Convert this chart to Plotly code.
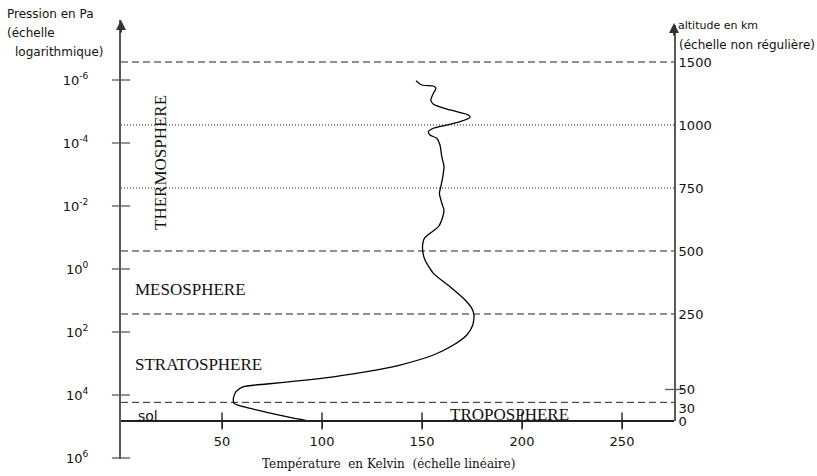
import numpy as np
import plotly.graph_objects as go

# ---------------- data ----------------
# temperature profile of the atmosphere (K) against pressure (Pa)
temperature_K = [147.0, 149.9, 155.7, 157.0, 155.7, 154.4, 155.7, 164.0, 173.2, 174.0,
                 169.0, 162.4, 155.7, 153.2, 154.0, 157.4, 159.0, 159.9, 161.0, 160.4,
                 159.4, 158.7, 159.9, 161.0, 160.4, 158.2, 154.0, 151.2, 150.4, 150.4,
                 151.5, 155.7, 164.0, 170.7, 174.9, 176.0, 175.4, 172.4, 165.7, 155.7,
                 139.0, 122.4, 105.7, 89.0, 72.4, 60.7, 57.0, 55.7, 56.0, 60.7,
                 72.4, 84.0, 92.4]
pressure_Pa = [1.05e-6, 1.44e-6, 1.55e-6, 1.83e-6, 2.64e-6, 4.32e-6, 5.90e-6, 8.95e-6, 1.29e-5, 1.53e-5,
               2.11e-5, 2.69e-5, 3.41e-5, 4.38e-5, 5.57e-5, 7.10e-5, 1.16e-4, 2.72e-4, 5.65e-4, 1.17e-3,
               2.44e-3, 3.95e-3, 8.20e-3, 1.34e-2, 2.19e-2, 4.54e-2, 7.36e-2, 0.106, 0.153, 0.282,
               0.518, 1.37, 3.65, 8.51, 17.7, 28.8, 60.0, 124, 259, 537,
               1117, 1820, 2642, 3516, 4477, 5458, 7852, 12735, 18323, 23496,
               35400, 51050, 64570]

pressure_ticks = [1e-6, 1e-4, 1e-2, 1e0, 1e2, 1e4, 1e6]
pressure_ticktext = ["10<sup>-6</sup>", "10<sup>-4</sup>", "10<sup>-2</sup>", "10<sup>0</sup>",
                     "10<sup>2</sup>", "10<sup>4</sup>", "10<sup>6</sup>"]
temperature_ticks = [50, 100, 150, 200, 250]

# altitude scale (km), placed at the pressure level it corresponds to
altitude_labels = ["0", "30", "50", "250", "500", "750", "1000", "1500"]
altitude_pressure = [6.68e4, 2.59e4, 6.69e3, 26.8, 0.268, 2.68e-3, 2.68e-5, 2.68e-7]
altitude_marked = ["50"]
ground_pressure = 6.68e4   # level of the "sol" line (0 km)

# layer boundaries (pressure, Pa)
boundary_pressure = [2.68e-7, 2.68e-5, 2.68e-3, 0.268, 26.8, 1.71e4]
boundary_dash = ["7px,4px", "1px,2px", "1px,2px", "7px,4px", "7px,4px", "7px,4px"]

layer_names = ["THERMOSPHERE", "MESOSPHERE", "STRATOSPHERE", "TROPOSPHERE", "sol"]

# ---------------- geometry ----------------
W, H = 817, 476
ML, MR, MT, MB = 121, 143, 20, 17
PW, PH = W - ML - MR, H - MT - MB


def px(x):
    return (x - ML) / PW


def py(y):
    return (H - MB - y) / PH


def L(y):  # pixel row -> log10 pressure
    return (y - 269) / 31.5


XR = [-0.5, 276]
YR = [L(459), L(20)]
Y3R = [L(421), L(25)]
X_POS = py(421)

AX_GRAY = "#5a5a5a"
INK = "#111111"
TICKFONT = dict(family="DejaVu Sans", size=13, color=INK)
SERIF = "Liberation Serif"

fig = go.Figure()

# boundary lines
for p, d in zip(boundary_pressure, boundary_dash):
    fig.add_trace(go.Scatter(x=XR, y=[p, p], mode="lines",
                             line=dict(color="#222222", width=1, dash=d),
                             hoverinfo="skip", showlegend=False))

# temperature curve
fig.add_trace(go.Scatter(x=temperature_K, y=pressure_Pa, mode="lines",
                         line=dict(color="#000000", width=1.3, shape="spline", smoothing=0.6),
                         showlegend=False))

# crossing tick marks (drawn as line markers centred on the axes)
fig.add_trace(go.Scatter(x=[XR[0]] * len(pressure_ticks), y=pressure_ticks, mode="markers",
                         marker=dict(symbol="line-ew", size=13, line=dict(width=1.3, color=AX_GRAY)),
                         cliponaxis=False, hoverinfo="skip", showlegend=False))
fig.add_trace(go.Scatter(x=temperature_ticks, y=[ground_pressure] * len(temperature_ticks), mode="markers",
                         marker=dict(symbol="line-ns", size=12, color="#222222",
                                     line=dict(width=1.4, color="#222222")),
                         cliponaxis=False, hoverinfo="skip", showlegend=False))
mk_p = [altitude_pressure[altitude_labels.index(a)] for a in altitude_marked]
fig.add_trace(go.Scatter(x=[XR[1]] * len(mk_p), y=mk_p, xaxis="x", yaxis="y3", mode="markers",
                         marker=dict(symbol="line-ew", size=13, line=dict(width=1.3, color=AX_GRAY)),
                         cliponaxis=False, hoverinfo="skip", showlegend=False))

annotations = []
# arrows on the vertical axes
annotations.append(dict(x=0, y=1, xref="paper", yref="paper", ax=0, ay=14, text="",
                        showarrow=True, arrowhead=2, arrowsize=1, arrowwidth=2, arrowcolor="#333"))
annotations.append(dict(x=1, y=py(23), xref="paper", yref="paper", ax=0, ay=14, text="",
                        showarrow=True, arrowhead=2, arrowsize=1, arrowwidth=2, arrowcolor="#333"))

# layer names
annotations.append(dict(x=19, y=L(163), xref="x", yref="y", text=layer_names[0], textangle=-90,
                        showarrow=False, font=dict(family=SERIF, size=17, color=INK)))
annotations.append(dict(x=5.5, y=L(289), xref="x", yref="y", text=layer_names[1], xanchor="left",
                        showarrow=False, font=dict(family=SERIF, size=17, color=INK)))
annotations.append(dict(x=5.5, y=L(364), xref="x", yref="y", text=layer_names[2], xanchor="left",
                        showarrow=False, font=dict(family=SERIF, size=17, color=INK)))
annotations.append(dict(x=193.5, y=L(414), xref="x", yref="y", text=layer_names[3],
                        showarrow=False, font=dict(family=SERIF, size=17, color=INK)))
annotations.append(dict(x=13, y=L(416), xref="x", yref="y", text=layer_names[4],
                        showarrow=False, font=dict(family="DejaVu Sans", size=14, color=INK)))

# axis titles
for txt, x, y, s in [("Pression en Pa", 5, 14, 12), ("(échelle", 5, 33, 12), ("logarithmique)", 13, 52, 12),
                     ("altitude en km", 676, 26, 11), ("(échelle non régulière)", 677, 45, 12)]:
    annotations.append(dict(x=px(x), y=py(y), xref="paper", yref="paper", text=txt,
                            xanchor="left", yanchor="middle", showarrow=False,
                            font=dict(family="DejaVu Sans", size=s, color=INK)))
annotations.append(dict(x=px(388), y=py(464), xref="paper", yref="paper",
                        text="Température  en Kelvin  (échelle linéaire)",
                        xanchor="center", yanchor="middle",
                        showarrow=False, font=dict(family="DejaVu Serif", size=12, color=INK)))

fig.update_layout(
    width=W, height=H, margin=dict(l=ML, r=MR, t=MT, b=MB, pad=0, autoexpand=False),
    paper_bgcolor="white", plot_bgcolor="rgba(0,0,0,0)", showlegend=False,
    xaxis=dict(range=XR, anchor="free", position=X_POS, showgrid=False, zeroline=False,
               automargin=False, showline=True, linecolor="#222222", linewidth=1.5,
               tickmode="array", tickvals=temperature_ticks, ticks="outside", ticklen=6,
               tickwidth=1.4, tickcolor="#222222",
               ticklabelstandoff=3, tickfont=TICKFONT),
    yaxis=dict(type="log", range=YR, anchor="x", showgrid=False, zeroline=False,
               automargin=False, showline=True, linecolor=AX_GRAY, linewidth=2,
               tickmode="array", tickvals=pressure_ticks, ticktext=pressure_ticktext,
               ticks="", ticklabelstandoff=28, tickfont=TICKFONT),
    yaxis3=dict(type="log", range=Y3R, domain=[py(421), py(25)], anchor="x", side="right",
                automargin=False, showgrid=False, zeroline=False, showline=True,
                linecolor=AX_GRAY, linewidth=2,
                tickmode="array", tickvals=altitude_pressure, ticktext=altitude_labels,
                ticks="", ticklabelstandoff=0, tickfont=TICKFONT),
    annotations=annotations,
)

fig.write_html("out.html")
